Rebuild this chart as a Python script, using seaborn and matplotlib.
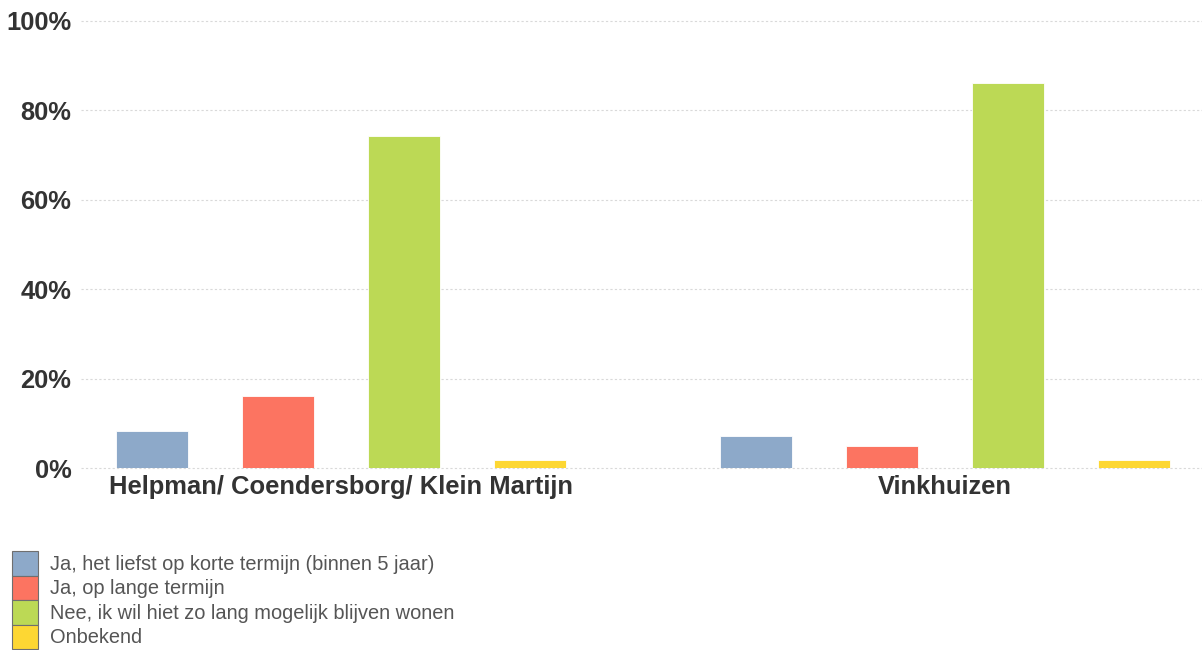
import matplotlib
matplotlib.use("Agg")
import matplotlib.pyplot as plt
from matplotlib.patches import Patch
import seaborn as sns
import pandas as pd

# Wijken en antwoordcategorieën
wijken = ["Helpman/ Coendersborg/ Klein Martijn", "Vinkhuizen"]
antwoorden = [
    "Ja, het liefst op korte termijn (binnen 5 jaar)",
    "Ja, op lange termijn",
    "Nee, ik wil hiet zo lang mogelijk blijven wonen",
    "Onbekend",
]
# Percentages per antwoord, per wijk
korte_termijn = [8.2, 7.2]
lange_termijn = [16.0, 4.9]
blijven_wonen = [74.3, 86.1]
onbekend = [1.8, 1.8]
y_ticks = [0, 20, 40, 60, 80, 100]
y_tick_labels = ["0%", "20%", "40%", "60%", "80%", "100%"]

kleuren = ["#8DA9C9", "#FC7461", "#BCD955", "#FDD733"]

rows = []
for reeks, waarden in zip(antwoorden, [korte_termijn, lange_termijn, blijven_wonen, onbekend]):
    for wijk, v in zip(wijken, waarden):
        rows.append({"wijk": wijk, "antwoord": reeks, "pct": v})
df = pd.DataFrame(rows)

sns.set_style("white")
plt.rcParams["font.family"] = ["Liberation Sans", "DejaVu Sans"]

fig = plt.figure(figsize=(12.02, 6.5), dpi=100)
ax = fig.add_axes([81 / 1202, (650 - 468) / 650, (1202 - 81) / 1202, 447 / 650])

sns.barplot(data=df, x="wijk", y="pct", hue="antwoord", order=wijken,
            hue_order=antwoorden, palette=kleuren, saturation=1,
            width=0.835, gap=0.43, edgecolor="white", linewidth=0.6,
            ax=ax, legend=False)

ax.set_xlim(-0.43, 1.425)
ax.set_ylim(0, 100)
ax.set_yticks(y_ticks)
ax.set_yticklabels(y_tick_labels, fontsize=18.4, fontweight="bold", color="#333333")
ax.tick_params(axis="both", length=0)
ax.tick_params(axis="y", pad=7)
ax.tick_params(axis="x", pad=5)
for lbl in ax.get_xticklabels():
    lbl.set_fontsize(18.4)
    lbl.set_fontweight("bold")
    lbl.set_color("#333333")
ax.set_xlabel("")
ax.set_ylabel("")
for s in ax.spines.values():
    s.set_visible(False)
ax.yaxis.grid(True, color="#d9d9d9", linestyle=(0, (2, 2)), linewidth=0.8)
ax.set_axisbelow(True)
for gl in ax.get_ygridlines():
    gl.set_clip_on(False)

handles = [Patch(facecolor=c, edgecolor="#6f6f6f", linewidth=0.8) for c in kleuren]
fig.legend(handles, antwoorden, loc="upper left",
           bbox_to_anchor=(12 / 1202, 1 - 551 / 650),
           frameon=False, fontsize=14.4, labelcolor="#555555",
           handlelength=1.3, handleheight=1.51, labelspacing=0.0,
           handletextpad=0.6, borderaxespad=0, borderpad=0)

fig.savefig("out.png", dpi=100)
